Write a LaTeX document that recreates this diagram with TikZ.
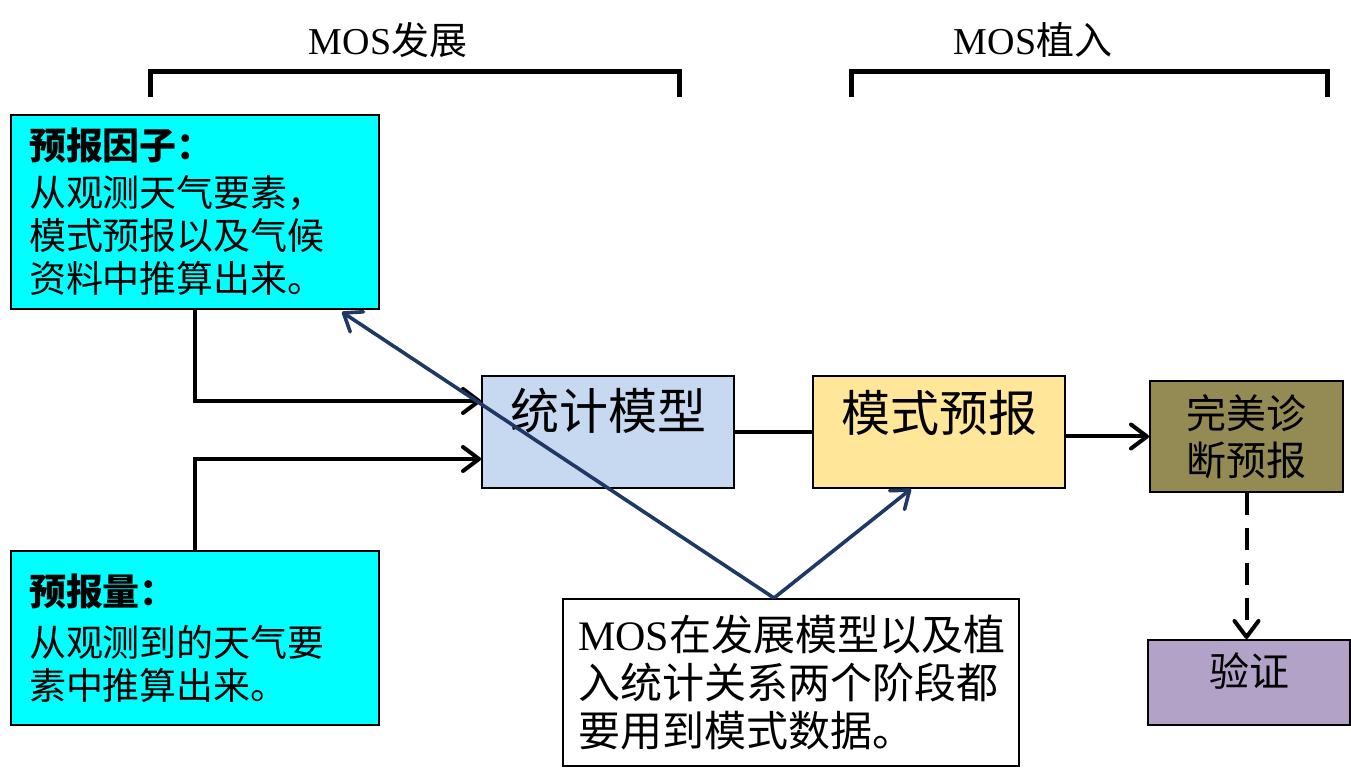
\documentclass[tikz,border=0pt]{standalone}
\usepackage{fontspec}
\setmainfont{Liberation Serif}
\newfontfamily\cjk{Noto Sans CJK SC}
\usetikzlibrary{arrows.meta}
\definecolor{factcyan}{HTML}{00FFFF}
\definecolor{statblue}{HTML}{C6D9F1}
\definecolor{modelgold}{HTML}{FFE699}
\definecolor{pdolive}{HTML}{948A54}
\definecolor{checkpurple}{HTML}{B3A2C7}
\definecolor{linknavy}{HTML}{1F3864}
\tikzset{
  box/.style={draw, line width=1pt, inner sep=0pt, font=\cjk},
  sidebox/.style={box, fill=factcyan, anchor=north west, minimum width=184pt, align=left,
    inner xsep=9pt, text width=166pt, font=\cjk\fontsize{18.5pt}{21.5pt}\selectfont},
  midbox/.style={box, anchor=north west, minimum width=126pt, minimum height=56pt,
    font=\cjk\fontsize{24.5pt}{28pt}\selectfont},
  bracket/.style={line width=2.5pt},
  conn/.style={line width=2pt},
  navylink/.style={line width=1.8pt, draw=linknavy},
  title/.style={font=\fontsize{19pt}{22pt}\selectfont}
}
\begin{document}
\begin{tikzpicture}[x=0.5pt,y=-0.5pt,>={Straight Barb[length=8pt,width=12pt,round]}]
\useasboundingbox (0,0) rectangle (1351,780);
\node[title] (fz) at (388,40) {MOS{\cjk 发展}};
\node[title] (zr) at (1033,40) {MOS{\cjk 植入}};
\draw[bracket] (150,97) -- (150,72) -- (679,72) -- (679,97);
\draw[bracket] (851,97) -- (851,72) -- (1327,72) -- (1327,97);
\node[sidebox, minimum height=97pt] (yb) at (10,114) {{\bfseries 预报因子：}\\[2pt]从观测天气要素，\\模式预报以及气候\\资料中推算出来。};
\node[sidebox, minimum height=87pt] (ybl) at (10,550) {{\bfseries 预报量：}\\[4pt]从观测到的天气要\\素中推算出来。};
\node[midbox, fill=statblue, text height=26.8pt, text depth=29.2pt] (tj) at (481,375) {统计模型};
\node[midbox, fill=modelgold, text height=27.8pt, text depth=28.2pt] (ms) at (812,375) {模式预报};
\node[box, fill=pdolive, anchor=north west, minimum width=96.5pt, minimum height=55.5pt, align=center,
  font=\cjk\fontsize{20pt}{23.5pt}\selectfont] (wm) at (1149,380) {完美诊\\断预报};
\node[box, fill=checkpurple, anchor=north west, minimum width=101pt, text height=23.1pt, text depth=19.4pt,
  font=\cjk\fontsize{20pt}{23.5pt}\selectfont] (yz) at (1147,639) {验证};
\node[box, fill=white, anchor=north west, minimum width=228pt, minimum height=83.5pt, align=left,
  inner xsep=7.5pt, text width=213pt, font=\cjk\fontsize{21pt}{24pt}\selectfont] (nt) at (562,598)
  {{\rmfamily MOS}在发展模型以及植\\入统计关系两个阶段都\\要用到模式数据。};
\draw[conn,->] (yb.south) |- ([yshift=15.5pt]tj.west);
\draw[conn,->] (ybl.north) |- ([yshift=-13.5pt]tj.west);
\draw[conn] (tj.east) -- (ms.west);
\draw[conn,->] (ms.east |- wm.west) -- (wm.west);
\draw[conn,->,dash pattern=on 11pt off 6.5pt] (wm.south) -- (wm.south |- yz.north);
\draw[navylink,->] ([xshift=-8.5pt]nt.north) -- ([xshift=-19pt,yshift=-1pt]yb.south east);
\draw[navylink,->] ([xshift=-8.5pt]nt.north) -- ([xshift=-14pt]ms.south);
\end{tikzpicture}
\end{document}
